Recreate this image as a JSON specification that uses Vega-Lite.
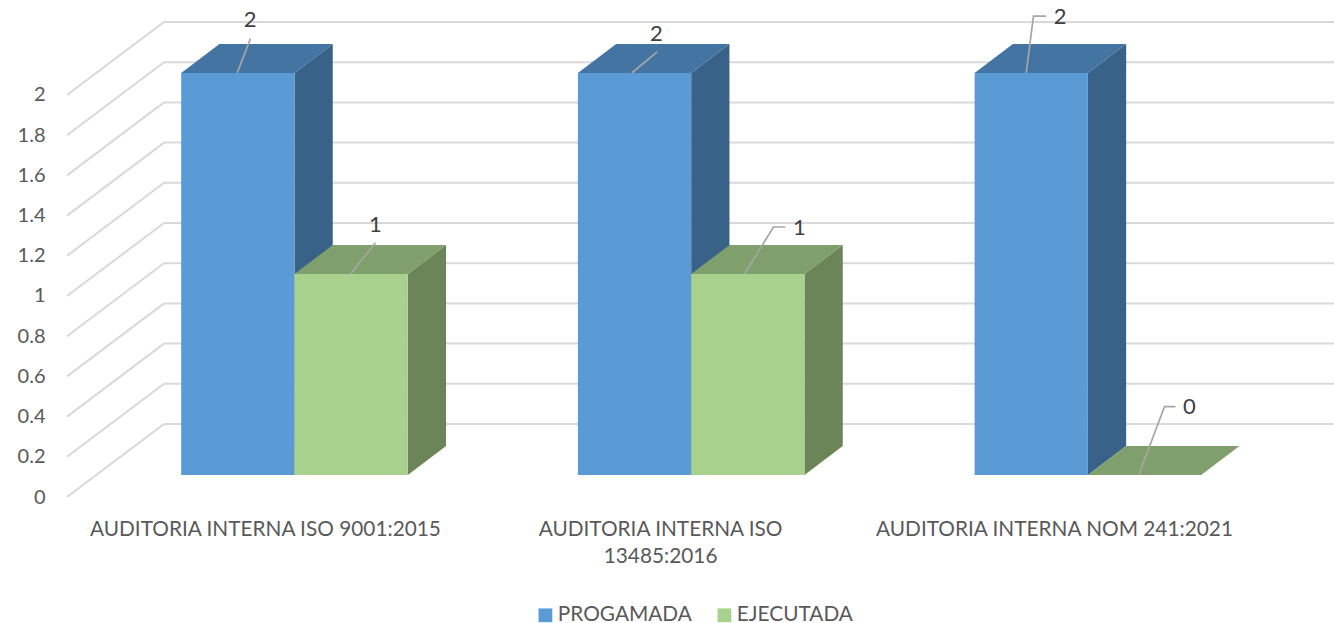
{"$schema":"https://vega.github.io/schema/vega-lite/v6.json","width":1267,"height":497,"autosize":{"type":"none"},"padding":{"left":67,"top":0,"right":0,"bottom":126},"background":"white","config":{"view":{"stroke":null},"font":"Lato"},"data":{"values":[{"category":"AUDITORIA INTERNA ISO 9001:2015","series":"PROGAMADA","value":2},{"category":"AUDITORIA INTERNA ISO 9001:2015","series":"EJECUTADA","value":1},{"category":"AUDITORIA INTERNA ISO 13485:2016","series":"PROGAMADA","value":2},{"category":"AUDITORIA INTERNA ISO 13485:2016","series":"EJECUTADA","value":1},{"category":"AUDITORIA INTERNA NOM 241:2021","series":"PROGAMADA","value":2},{"category":"AUDITORIA INTERNA NOM 241:2021","series":"EJECUTADA","value":0}]},"transform":[{"calculate":"indexof(['AUDITORIA INTERNA ISO 9001:2015','AUDITORIA INTERNA ISO 13485:2016','AUDITORIA INTERNA NOM 241:2021'],datum.category)","as":"i"},{"calculate":"datum.series==='PROGAMADA'?0:1","as":"s"},{"calculate":"datum.i*2+datum.s","as":"key"},{"calculate":"datum.i+0.2878+datum.s*0.2856","as":"x0"},{"calculate":"datum.x0+0.2856","as":"x1"},{"calculate":"0.1095","as":"base"},{"calculate":"0.1095+datum.value","as":"top"}],"resolve":{"scale":{"color":"independent"}},"layer":[{"data":{"values":[{"tick":0},{"tick":0.2},{"tick":0.4},{"tick":0.6},{"tick":0.8},{"tick":1},{"tick":1.2},{"tick":1.4},{"tick":1.6},{"tick":1.8},{"tick":2}]},"transform":[{"calculate":"0.2445","as":"bx"},{"calculate":"3.1938","as":"ex"},{"calculate":"0","as":"sx"},{"calculate":"datum.tick+0.3632","as":"by"}],"layer":[{"mark":{"type":"rule","color":"#D9D9D9","strokeWidth":2},"encoding":{"x":{"field":"bx","type":"quantitative","scale":{"domain":[0,3.1938],"nice":false,"zero":false},"axis":{"values":[0.499,1.495,2.488],"title":null,"grid":false,"domain":false,"ticks":false,"labelPadding":22,"labelFontSize":20.8,"labelColor":"#595959","labelFont":"Lato","labelOverlap":false,"labelLineHeight":27,"labelBound":false,"labelFlush":false,"labelLimit":600,"labelExpr":"datum.value<1?'AUDITORIA INTERNA ISO 9001:2015':datum.value<2?['AUDITORIA INTERNA ISO','13485:2016']:'AUDITORIA INTERNA NOM 241:2021'"}},"x2":{"field":"ex"},"y":{"field":"by","type":"quantitative","scale":{"domain":[0,2.4726],"nice":false,"zero":false},"axis":{"values":[0,0.2,0.4,0.6,0.8,1,1.2,1.4,1.6,1.8,2],"title":null,"grid":false,"domain":false,"ticks":false,"labelPadding":22,"labelFontSize":20,"labelColor":"#595959","labelFont":"Lato","format":".2~f"}}}},{"mark":{"type":"rule","color":"#D9D9D9","strokeWidth":2},"encoding":{"x":{"field":"sx","type":"quantitative","scale":{"domain":[0,3.1938],"nice":false,"zero":false}},"x2":{"field":"bx"},"y":{"field":"tick","type":"quantitative","scale":{"domain":[0,2.4726],"nice":false,"zero":false}},"y2":{"field":"by"}}}]},{"transform":[{"calculate":"[0,1]","as":"t"},{"flatten":["t"]},{"calculate":"datum.x1+datum.t*0.0965","as":"qx"},{"calculate":"datum.top+datum.t*0.1443","as":"yt"},{"calculate":"datum.base+datum.t*0.1443","as":"yb"}],"mark":{"type":"area","orient":"vertical","line":false},"encoding":{"x":{"field":"qx","type":"quantitative","scale":{"domain":[0,3.1938],"nice":false,"zero":false}},"y":{"field":"yt","type":"quantitative","stack":null,"scale":{"domain":[0,2.4726],"nice":false,"zero":false}},"y2":{"field":"yb"},"detail":{"field":"key"},"color":{"field":"series","type":"nominal","scale":{"domain":["PROGAMADA","EJECUTADA"],"range":["#386288","#6B8559"]},"legend":null},"opacity":{"value":1}}},{"transform":[{"calculate":"[0,0.0965,0.2856,0.3821]","as":"t"},{"flatten":["t"]},{"calculate":"datum.x0+datum.t","as":"qx"},{"calculate":"datum.top+min(datum.t,0.0965)/0.0965*0.1443","as":"yu"},{"calculate":"datum.top+max(0,datum.t-0.2856)/0.0965*0.1443","as":"yl"}],"mark":{"type":"area","orient":"vertical","line":false},"encoding":{"x":{"field":"qx","type":"quantitative","scale":{"domain":[0,3.1938],"nice":false,"zero":false}},"y":{"field":"yu","type":"quantitative","stack":null,"scale":{"domain":[0,2.4726],"nice":false,"zero":false}},"y2":{"field":"yl"},"detail":{"field":"key"},"color":{"field":"series","type":"nominal","scale":{"domain":["PROGAMADA","EJECUTADA"],"range":["#4474A1","#7F9F6C"]},"legend":null},"opacity":{"value":1}}},{"mark":{"type":"rect"},"encoding":{"x":{"field":"x0","type":"quantitative","scale":{"domain":[0,3.1938],"nice":false,"zero":false}},"x2":{"field":"x1"},"y":{"field":"top","type":"quantitative","scale":{"domain":[0,2.4726],"nice":false,"zero":false}},"y2":{"field":"base"},"color":{"field":"series","type":"nominal","title":null,"scale":{"domain":["PROGAMADA","EJECUTADA"],"range":["#5B9BD5","#A9D18E"]},"legend":{"orient":"none","legendX":468,"legendY":604.5,"direction":"horizontal","symbolType":"square","symbolSize":190,"symbolStrokeWidth":0,"symbolOpacity":1,"labelFontSize":20.8,"labelColor":"#595959","labelFont":"Lato","labelLimit":300,"columnPadding":22,"labelOffset":2}},"opacity":{"value":1}}},{"transform":[{"calculate":"[0,1,2]","as":"pt"},{"flatten":["pt"]},{"calculate":"datum.x0+[[0.1412,0.1747,0.1747],[0.1412,0.2042,0.2042],[0.1359,0.1999,0.1999],[0.1344,0.2075,0.2377],[0.1301,0.1485,0.1805],[0.1283,0.1931,0.2208]][datum.key][datum.pt]","as":"lx"},{"calculate":"datum.top+[[0,0.1716,0.1716],[0,0.1552,0.1552],[0,0.1055,0.1055],[0,0.2338,0.2338],[0,0.2826,0.2826],[0,0.3398,0.3398]][datum.key][datum.pt]","as":"ly"}],"mark":{"type":"line","color":"#A6A6A6","strokeWidth":1.7},"encoding":{"x":{"field":"lx","type":"quantitative","scale":{"domain":[0,3.1938],"nice":false,"zero":false}},"y":{"field":"ly","type":"quantitative","scale":{"domain":[0,2.4726],"nice":false,"zero":false}},"detail":{"field":"key"},"order":{"field":"pt"}}},{"transform":[{"calculate":"datum.x0+[0.1737,0.2042,0.1981,0.2730,0.2158,0.2561][datum.key]","as":"tx"},{"calculate":"datum.top+[0.2612,0.2423,0.1915,0.2274,0.2776,0.3368][datum.key]","as":"ty"}],"mark":{"type":"text","fontSize":22,"color":"#404040","font":"Lato","align":"center","baseline":"middle"},"encoding":{"x":{"field":"tx","type":"quantitative","scale":{"domain":[0,3.1938],"nice":false,"zero":false}},"y":{"field":"ty","type":"quantitative","scale":{"domain":[0,2.4726],"nice":false,"zero":false}},"text":{"field":"value","type":"quantitative"}}}]}
